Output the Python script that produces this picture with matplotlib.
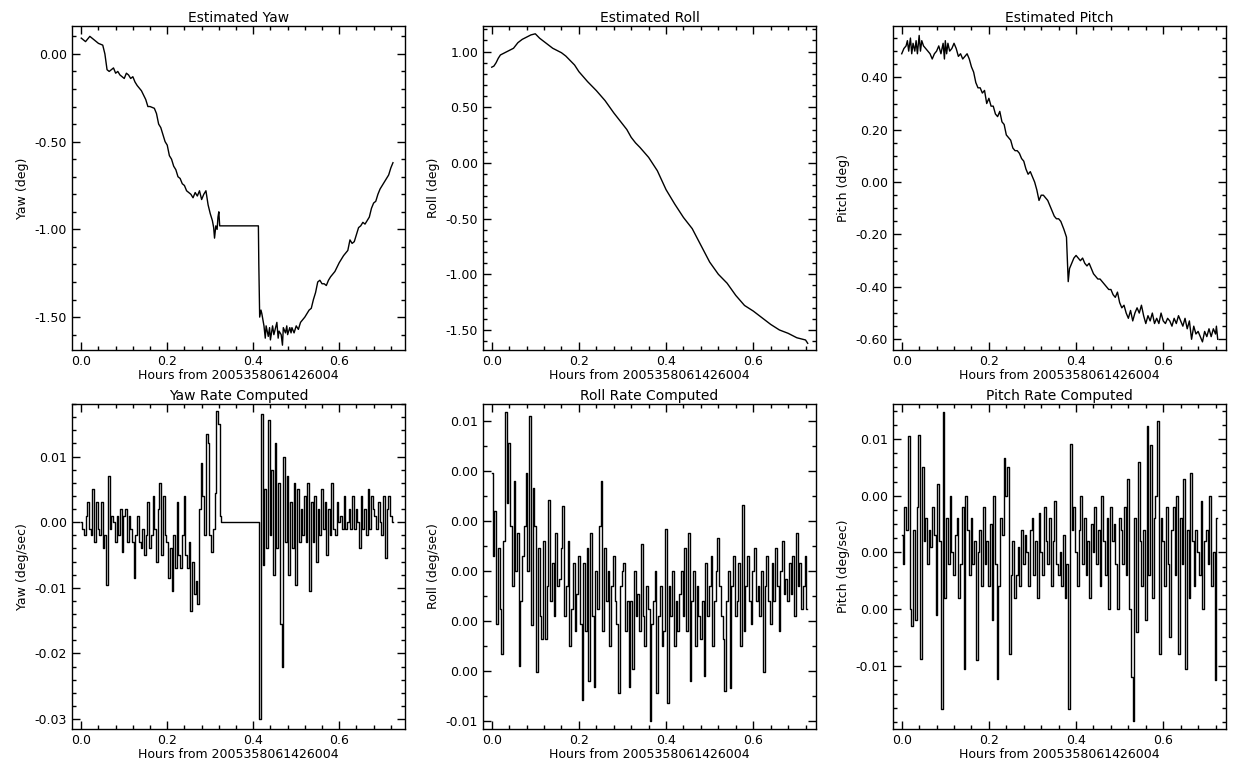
import numpy as np
import matplotlib
matplotlib.use("Agg")
import matplotlib.pyplot as plt
from matplotlib.ticker import MultipleLocator, FixedLocator, FixedFormatter, FormatStrFormatter

plt.rcParams['font.family'] = ['DejaVu Sans']
plt.rcParams['axes.unicode_minus'] = False

XLABEL = "Hours from 2005358061426004"

# estimated yaw (deg)
yaw_t = [0.0, 0.01, 0.02, 0.03, 0.04, 0.05, 0.055, 0.06, 0.065, 0.07, 0.075, 0.08, 0.085, 0.09, 0.095,
         0.10, 0.105, 0.11, 0.115, 0.12, 0.125, 0.13, 0.14, 0.15, 0.155, 0.16, 0.17, 0.175, 0.18, 0.185,
         0.19, 0.195, 0.20, 0.205, 0.21, 0.215, 0.22, 0.225, 0.23, 0.235, 0.24, 0.245, 0.25, 0.255,
         0.26, 0.265, 0.27, 0.275, 0.28, 0.285, 0.29, 0.295, 0.30, 0.305, 0.308, 0.31, 0.313, 0.316,
         0.318, 0.32, 0.322, 0.412, 0.413, 0.415, 0.418, 0.42, 0.425, 0.428, 0.43, 0.435, 0.438, 0.44,
         0.445, 0.448, 0.45, 0.455, 0.458, 0.46, 0.465, 0.468, 0.47, 0.475, 0.478, 0.48, 0.485, 0.488,
         0.49, 0.495, 0.50, 0.505, 0.51, 0.52, 0.53, 0.535, 0.54, 0.545, 0.55, 0.555, 0.56, 0.565, 0.57,
         0.575, 0.58, 0.59, 0.60, 0.61, 0.62, 0.625, 0.63, 0.635, 0.64, 0.645, 0.65, 0.655, 0.66, 0.665,
         0.67, 0.675, 0.68, 0.685, 0.69, 0.695, 0.70, 0.705, 0.71, 0.715, 0.72, 0.725]
yaw = [0.09, 0.07, 0.10, 0.08, 0.06, 0.05, 0.00, -0.09, -0.10, -0.09, -0.08, -0.11, -0.10, -0.12, -0.13,
       -0.14, -0.11, -0.12, -0.14, -0.13, -0.16, -0.18, -0.21, -0.26, -0.30, -0.30, -0.31, -0.34, -0.40, -0.42,
       -0.46, -0.50, -0.52, -0.58, -0.60, -0.64, -0.66, -0.70, -0.71, -0.74, -0.75, -0.78, -0.79, -0.80,
       -0.82, -0.79, -0.81, -0.78, -0.83, -0.80, -0.78, -0.86, -0.91, -0.95, -0.99, -1.05, -0.98, -1.00,
       -0.93, -0.90, -0.98, -0.98, -1.20, -1.50, -1.46, -1.48, -1.55, -1.62, -1.55, -1.61, -1.56, -1.63,
       -1.55, -1.60, -1.58, -1.53, -1.62, -1.58, -1.60, -1.66, -1.56, -1.59, -1.55, -1.60, -1.56, -1.59,
       -1.56, -1.59, -1.55, -1.57, -1.53, -1.50, -1.46, -1.45, -1.40, -1.36, -1.30, -1.29, -1.31, -1.31,
       -1.32, -1.29, -1.27, -1.24, -1.19, -1.15, -1.12, -1.06, -1.08, -1.07, -1.03, -0.99, -0.98, -0.96,
       -0.97, -0.95, -0.93, -0.88, -0.85, -0.84, -0.80, -0.77, -0.75, -0.73, -0.71, -0.69, -0.65, -0.62]

# estimated roll (deg)
roll_t = [0.0, 0.005, 0.01, 0.015, 0.02, 0.03, 0.04, 0.05, 0.06, 0.07, 0.08, 0.09, 0.10, 0.11, 0.12, 0.13,
          0.14, 0.15, 0.16, 0.17, 0.18, 0.19, 0.20, 0.22, 0.24, 0.26, 0.28, 0.30, 0.31, 0.32, 0.33, 0.34,
          0.36, 0.38, 0.40, 0.42, 0.44, 0.46, 0.48, 0.50, 0.52, 0.54, 0.56, 0.58, 0.60, 0.62, 0.64, 0.66,
          0.68, 0.70, 0.72, 0.725]
roll = [0.86, 0.87, 0.90, 0.94, 0.97, 0.99, 1.01, 1.03, 1.08, 1.11, 1.13, 1.15, 1.16, 1.12, 1.09, 1.06,
        1.03, 1.01, 0.99, 0.96, 0.92, 0.88, 0.82, 0.73, 0.65, 0.56, 0.45, 0.35, 0.30, 0.23, 0.18, 0.14,
        0.05, -0.07, -0.24, -0.37, -0.49, -0.59, -0.74, -0.89, -1.00, -1.08, -1.19, -1.28, -1.33, -1.39,
        -1.45, -1.50, -1.53, -1.57, -1.59, -1.62]

# estimated pitch (deg)
pitch_t = [0.000, 0.005, 0.010, 0.013, 0.016, 0.020, 0.023, 0.026, 0.030, 0.033, 0.036, 0.040, 0.043,
           0.046, 0.050, 0.055, 0.060, 0.065, 0.070, 0.075, 0.080, 0.085, 0.090, 0.095, 0.098, 0.100,
           0.103, 0.106, 0.110, 0.115, 0.120, 0.125, 0.130, 0.135, 0.140, 0.145, 0.150, 0.155, 0.160,
           0.165, 0.170, 0.175, 0.180, 0.185, 0.190, 0.195, 0.200, 0.205, 0.210, 0.215, 0.220, 0.225,
           0.230, 0.235, 0.240, 0.245, 0.250, 0.255, 0.260, 0.265, 0.270, 0.275, 0.280, 0.285, 0.290,
           0.295, 0.300, 0.305, 0.310, 0.315, 0.320, 0.325, 0.330, 0.335, 0.340, 0.345, 0.350, 0.355,
           0.360, 0.365, 0.372, 0.378, 0.380, 0.382, 0.385, 0.390, 0.395, 0.400, 0.405, 0.410, 0.415,
           0.420, 0.425, 0.430, 0.435, 0.440, 0.445, 0.450, 0.455, 0.460, 0.465, 0.470, 0.475, 0.480,
           0.485, 0.490, 0.495, 0.500, 0.505, 0.510, 0.515, 0.520, 0.525, 0.530, 0.535, 0.540, 0.545,
           0.550, 0.555, 0.560, 0.565, 0.570, 0.575, 0.580, 0.585, 0.590, 0.595, 0.600, 0.605, 0.610,
           0.615, 0.620, 0.625, 0.630, 0.635, 0.640, 0.645, 0.650, 0.655, 0.660, 0.665, 0.670, 0.675,
           0.680, 0.685, 0.690, 0.695, 0.700, 0.705, 0.710, 0.715, 0.720, 0.722, 0.725]
pitch = [0.49, 0.51, 0.52, 0.54, 0.50, 0.55, 0.49, 0.53, 0.50, 0.54, 0.49, 0.56, 0.50,
         0.54, 0.52, 0.51, 0.50, 0.49, 0.47, 0.49, 0.50, 0.52, 0.49, 0.53, 0.47, 0.54,
         0.49, 0.53, 0.50, 0.51, 0.53, 0.51, 0.48, 0.49, 0.47, 0.48, 0.49, 0.47, 0.44,
         0.42, 0.38, 0.36, 0.36, 0.34, 0.35, 0.30, 0.32, 0.29, 0.29, 0.26, 0.25, 0.27,
         0.23, 0.22, 0.18, 0.17, 0.16, 0.13, 0.12, 0.12, 0.11, 0.09, 0.08, 0.05, 0.03,
         0.04, 0.02, 0.00, -0.03, -0.07, -0.05, -0.05, -0.06, -0.07, -0.09, -0.11, -0.13, -0.14,
         -0.14, -0.15, -0.18, -0.21, -0.29, -0.38, -0.33, -0.31, -0.29, -0.28, -0.29, -0.30, -0.29,
         -0.31, -0.32, -0.31, -0.33, -0.35, -0.36, -0.37, -0.37, -0.38, -0.39, -0.40, -0.41, -0.41,
         -0.43, -0.44, -0.42, -0.46, -0.48, -0.47, -0.50, -0.52, -0.49, -0.53, -0.50, -0.48, -0.50,
         -0.47, -0.51, -0.54, -0.51, -0.53, -0.50, -0.54, -0.52, -0.54, -0.50, -0.53, -0.54, -0.52,
         -0.53, -0.55, -0.52, -0.54, -0.51, -0.53, -0.55, -0.52, -0.56, -0.53, -0.60, -0.55, -0.58,
         -0.57, -0.59, -0.61, -0.57, -0.59, -0.56, -0.59, -0.56, -0.58, -0.55, -0.60]

RATE_DT = 0.004  # hours between rate samples

# yaw rate, units of 1e-3 deg/sec
yaw_rate = [0, -1, -2, 1, 3, -1, -2, 5, -3, 3,
            -1, -2, 3, -4, -2, -9.5, 7, -1, 1, 0,
            -3, 1, -2, 2, -4.5, 1, 2, -3, 1, -1,
            -3, -8.5, -2, 1, -3, -4, -1, -5, -2, 3,
            -4, -2, 4, -1, -6, 2, 6, -5, 4, -2,
            -3, -8.5, -4, -10.5, -2, -7, 3, -5, -7, -2,
            4, -5, -7, -3, -13.5, -6, -11, -9, -12.5, 2,
            9, 4, -2, 13.5, 12, -2, -4.5, -1, 4.5, 17,
            15, 1, 0, 0, 0, 0, 0, 0, 0, 0,
            0, 0, 0, 0, 0, 0, 0, 0, 0, 0,
            0, 0, 0, 0, -30, 16.5, -6.5, 5, -4, 15.5,
            -2, 8, -8, 12, -4, 6, -15.5, -22, 10, -3,
            7, -8, 3, -4, 6, -9.5, 5, -3, 2, -2,
            4, -3, 6, -10.5, 3, -3, 4, -6, 2, -2,
            5, -1, 3, -5, 2, -2, 6, -1, -2, 3,
            0, 1, -1, 4, -1, 0, 2, -1, 4, -1,
            2, 0, -4, 4, -1, 2, -2, 5, -1, 4,
            2, 1, -1, 3, 0, -2, 4, -5.5, 2, 4,
            1, 0]

# roll rate, units of 1e-3 deg/sec
roll_rate = [6.5, 1, 4, -3.5, 1.5, -2.5, -5.5, 2, 10.6, 4.5,
             8.5, 3, -1, 6, 0, 2.5, -6.3, -2, 1, 3,
             6.5, 0, 10.3, -3.6, 5.5, 3, -6.7, 1.5, -3, -4.5,
             2, -4.5, -1, 4.7, -2, 0.5, -3, 2.5, -1, -0.5,
             1.5, 4.3, -3, -1, 2, -5, -2.5, 0.5, -4, -1.5,
             1, -3.5, -8.6, 0.5, -4, 1.5, -7.3, 2.5, -3, -7.7,
             0, -2.5, 3, 6, -4, 1.5, -2, 0, -5, -1,
             1, -2, -3.5, -8.1, -1, 0, 0.5, -4, -2, -7.7,
             -2, -6.5, 0, -3, -1.5, -4, 1.8, -3, -5, -1,
             -2.5, -10, -3.5, -2, 0, -8.1, -3, -1, -5, -4,
             2.8, -8.8, -1, -3, 0, -5, -2, -4, -1.5, 0,
             -3, 1.5, -4, 2.5, -7.3, -2, 0, -5, -1, -3,
             -4.5, -2, -7, 0.5, -3, -1, 1, -5, -2, 0,
             2.2, -1, -3, -4.5, -8, -2, 0, -7.8, -1, 1,
             -3, -2, 0.5, -5, 4.4, -4, -1, 1, -2, -3.5,
             0, 1.5, -2, -1, -3, 0, -6.7, -1, 1, -2,
             -3.5, 0.5, -2, 1.5, -1, -4, 0, 2, -1.5, -0.5,
             -2, 0.5, -1.5, 1, -3, 2.5, -1, 0.5, -2.5, -1,
             1, -2.5]

# pitch rate, units of 1e-3 deg/sec
pitch_rate = [1.5, -1, 4, 2, 10.3, -5, -6.5, 2, -6, 4,
              10.4, -9.4, 7.5, 1, 3, -1, 2, 0.5, 4, 1.5,
              -5.5, 6, 1, -13.8, 12.4, -4, 3, -1, 5, 0,
              -2, 1.5, 3, -4, -1, 4, -10.3, 5, 2, -2,
              3, -1, 1, -9.5, 0, 2, -3, 4, -1, 1,
              -3, 2.5, -6, 5, -1, -11.2, -3, 3, 1.5, 8.3,
              5, 7.5, -9, -2, 1, -4, -2, 0.5, -3, 2,
              -1, 1.5, 0, -3, 2, 3, -2, 1, -4, 3.5,
              0, -2, 4, 1, -1, 3, -3, 1, 4.5, -1,
              -2, 0, -3, 1.5, -4, -1, -13.8, 9.6, 2, 4,
              0, -3, 2, 5, -1, 3, -2, 1, -4, 2.5,
              0, 4, -1, 2, -3, 5, 1, -2, 3, -5,
              4, 1, 2.5, -1, -5, 3, 2, -1, 4, -2,
              6.5, -5, -11, -14.9, 3, -7, 8, 1, -3, 2,
              -6, 11.2, -2, 9.5, -4, 3, 5, 11.6, -9, 3,
              1, -3, 4, -1, -7.5, 2, 4, -2, 5, -9,
              3, -1, 6.5, -10.3, 2, -4, 7, 1, -3, 2,
              0, -2, 4.5, -5, 1, 2, -1, 5, -3, 0,
              -11.3, 3]


def rate_time(vals):
    return np.arange(len(vals)) * RATE_DT


fig = plt.figure(figsize=(12.5, 7.75), dpi=100)
W, H = 1250.0, 775.0


def make_ax(x0, x1, y0, y1):
    ax = fig.add_axes([x0 / W, 1 - y1 / H, (x1 - x0) / W, (y1 - y0) / H])
    ax.tick_params(which='both', direction='in', top=True, right=True, labelsize=9, width=1)
    ax.tick_params(which='major', length=6)
    ax.tick_params(which='minor', length=3)
    for s in ax.spines.values():
        s.set_linewidth(1)
    ax.xaxis.set_major_locator(MultipleLocator(0.2))
    ax.xaxis.set_minor_locator(MultipleLocator(0.04))
    ax.xaxis.set_major_formatter(FormatStrFormatter('%.1f'))
    ax.set_xlabel(XLABEL, fontsize=9, labelpad=1)
    return ax


cols = [(72, 405), (483, 816), (893, 1226)]
top_row = (26, 350)
bot_row = (404, 729)

# top row
ax = make_ax(cols[0][0], cols[0][1], *top_row)
ax.plot(yaw_t, yaw, color='k', lw=1)
ax.set_xlim(-0.0215, 0.753)
ax.set_ylim(-1.6875, 0.159)
ax.yaxis.set_major_locator(MultipleLocator(0.5))
ax.yaxis.set_minor_locator(MultipleLocator(0.1))
ax.yaxis.set_major_formatter(FormatStrFormatter('%.2f'))
ax.set_title("Estimated Yaw", fontsize=10, pad=3)
ax.set_ylabel("Yaw (deg)", fontsize=9)

ax = make_ax(cols[1][0], cols[1][1], *top_row)
ax.plot(roll_t, roll, color='k', lw=1)
ax.set_xlim(-0.02, 0.744)
ax.set_ylim(-1.68, 1.23)
ax.yaxis.set_major_locator(MultipleLocator(0.5))
ax.yaxis.set_minor_locator(MultipleLocator(0.1))
ax.yaxis.set_major_formatter(FormatStrFormatter('%.2f'))
ax.set_title("Estimated Roll", fontsize=10, pad=3)
ax.set_ylabel("Roll (deg)", fontsize=9)

ax = make_ax(cols[2][0], cols[2][1], *top_row)
ax.plot(pitch_t, pitch, color='k', lw=1)
ax.set_xlim(-0.02, 0.744)
ax.set_ylim(-0.641, 0.596)
ax.yaxis.set_major_locator(MultipleLocator(0.2))
ax.yaxis.set_minor_locator(MultipleLocator(0.05))
ax.yaxis.set_major_formatter(FormatStrFormatter('%.2f'))
ax.set_title("Estimated Pitch", fontsize=10, pad=3)
ax.set_ylabel("Pitch (deg)", fontsize=9)

# bottom row
ax = make_ax(cols[0][0], cols[0][1], *bot_row)
ax.plot(rate_time(yaw_rate), np.array(yaw_rate) * 1e-3, color='k', lw=1, drawstyle='steps-mid')
ax.set_xlim(-0.0215, 0.753)
ax.set_ylim(-0.0315, 0.018)
ax.yaxis.set_major_locator(MultipleLocator(0.01))
ax.yaxis.set_minor_locator(MultipleLocator(0.002))
ax.yaxis.set_major_formatter(FormatStrFormatter('%.2f'))
ax.set_title("Yaw Rate Computed", fontsize=10, pad=3)
ax.set_ylabel("Yaw (deg/sec)", fontsize=9)

ax = make_ax(cols[1][0], cols[1][1], *bot_row)
ax.plot(rate_time(roll_rate), np.array(roll_rate) * 1e-3, color='k', lw=1, drawstyle='steps-mid')
ax.set_xlim(-0.02, 0.744)
ax.set_ylim(-0.0105, 0.0111)
roll_ticks = [-0.01 + i * 0.02 / 6 for i in range(7)]
ax.yaxis.set_major_locator(FixedLocator(roll_ticks))
ax.yaxis.set_minor_locator(MultipleLocator(0.02 / 12))
ax.yaxis.set_major_formatter(FixedFormatter(["-0.01", "0.00", "0.00", "0.00", "0.00", "0.00", "0.01"]))
ax.set_title("Roll Rate Computed", fontsize=10, pad=3)
ax.set_ylabel("Roll (deg/sec)", fontsize=9)

ax = make_ax(cols[2][0], cols[2][1], *bot_row)
ax.plot(rate_time(pitch_rate), np.array(pitch_rate) * 1e-3, color='k', lw=1, drawstyle='steps-mid')
ax.set_xlim(-0.02, 0.744)
ax.set_ylim(-0.0156, 0.0131)
ax.yaxis.set_major_locator(FixedLocator([-0.01, -0.005, 0.0, 0.005, 0.01]))
ax.yaxis.set_minor_locator(MultipleLocator(0.00125))
ax.yaxis.set_major_formatter(FixedFormatter(["-0.01", "0.00", "0.00", "0.00", "0.01"]))
ax.set_title("Pitch Rate Computed", fontsize=10, pad=3)
ax.set_ylabel("Pitch (deg/sec)", fontsize=9)

fig.savefig("out.png", dpi=100, facecolor='white')
